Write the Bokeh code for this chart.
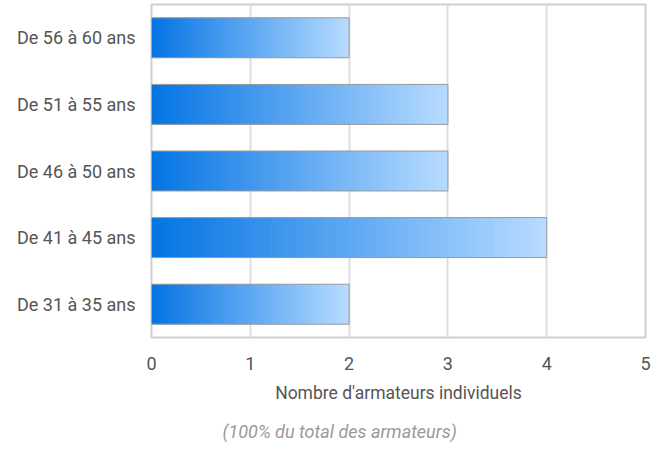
from bokeh.plotting import figure
from bokeh.models import FactorRange, Range1d, Title, ColumnDataSource, FixedTicker
from bokeh.embed import file_html
from bokeh.resources import INLINE

categories = ["De 31 à 35 ans", "De 41 à 45 ans", "De 46 à 50 ans", "De 51 à 55 ans", "De 56 à 60 ans"]
values = [2, 4, 3, 3, 2]
x_ticks = [0, 1, 2, 3, 4, 5]
x_title = "Nombre d'armateurs individuels"
footnote = "(100% du total des armateurs)"

FONT = "Roboto"
TXT = "#555555"

p = figure(width=651, height=455, output_backend="svg", toolbar_location=None,
           y_range=FactorRange(*categories, range_padding=0), x_range=Range1d(0, 5),
           min_border_left=151, min_border_right=6, min_border_top=4, min_border_bottom=0)

# gradient bars built from slices of each bar's own length
c0 = (4, 116, 228)
c1 = (184, 220, 255)
N = 60
lefts, rights, ys, cols = [], [], [], []
for cat, v in zip(categories, values):
    for i in range(N):
        t = (i + 0.5) / N
        r = [int(round(a + (b - a) * t)) for a, b in zip(c0, c1)]
        lefts.append(v * i / N)
        rights.append(min(v, v * (i + 2) / N))
        ys.append(cat)
        cols.append("#%02x%02x%02x" % tuple(r))
src = ColumnDataSource(dict(y=ys, left=lefts, right=rights, color=cols))
p.hbar(y="y", left="left", right="right", height=0.6, fill_color="color", line_color=None, source=src)
p.hbar(y=categories, left=0, right=values, height=0.6, fill_color=None, line_color="#9a9a9a", line_width=1)

p.xaxis.ticker = FixedTicker(ticks=x_ticks)
p.xgrid.grid_line_color = "#dedede"
p.xgrid.grid_line_width = 2
p.ygrid.grid_line_color = None
p.outline_line_color = "#cfcfcf"
p.outline_line_width = 2

for ax in (p.xaxis[0], p.yaxis[0]):
    ax.axis_line_color = None
    ax.major_tick_line_color = None
    ax.minor_tick_line_color = None
    ax.major_label_text_font = FONT
    ax.major_label_text_color = TXT

p.yaxis.major_label_text_font_size = "18px"
p.yaxis.major_label_standoff = 10
p.xaxis.major_label_text_font_size = "18px"
p.xaxis.major_label_standoff = 13
p.xaxis.axis_label = x_title
p.xaxis.axis_label_text_font = FONT
p.xaxis.axis_label_text_font_size = "17.5px"
p.xaxis.axis_label_text_font_style = "normal"
p.xaxis.axis_label_text_color = TXT
p.xaxis.axis_label_standoff = 10

note = Title(text=footnote, align="left", offset=71, standoff=27,
             text_font=FONT, text_font_size="18px", text_font_style="italic",
             text_color="#9a9a9a")
p.add_layout(note, "below")

open("out.html", "w").write(file_html(p, INLINE))
